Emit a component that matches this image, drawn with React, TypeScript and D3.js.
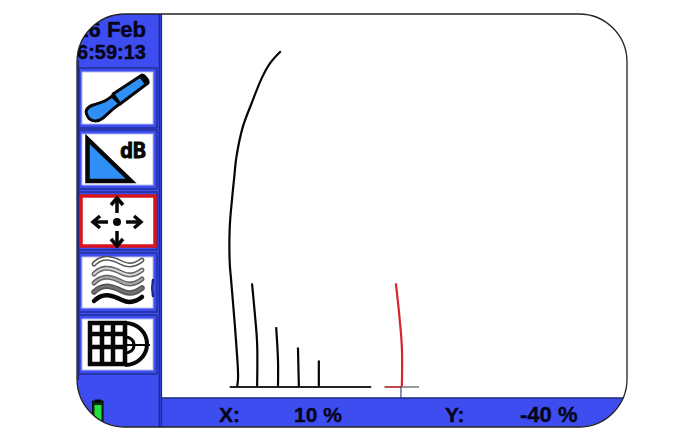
import * as d3 from "d3";

// traces, in % of the instrument's X / Y readout
const traceX = [
  [-15.9, -18.2, -20, -22.1, -24.1, -25.5, -25.9, -26.4, -26.9, -26.9, -26.6, -25.6, -25.1, -25.3],
  [-22.1, -21.5, -21, -21],
  [-16.9, -16.5, -16.5],
  [-12.2, -12],
  [-7.7, -7.7],
];
const traceY = [
  [47.5, 44.4, 40.5, 34.2, 27.7, 19.6, 15, 9, 1.6, -7.8, -12.3, -27.2, -37.6, -40],
  [-13.1, -20.9, -28.7, -40],
  [-24.5, -33.2, -40],
  [-29.8, -40],
  [-33.2, -40],
];
const cursorTraceX = [8.9, 9.6, 10.2, 10.2];
const cursorTraceY = [-13.1, -20.9, -29.8, -40];
const baselineX = [-26.9, 3.6];
const gateX = [6.4, 13.9];
const gateStartX = 6.6;
const cursorX = 10;
const cursorY = -40;

const dateLabel = "16 Feb";
const timeLabel = "16:59:13";

const BLUE = "#3e4df0";
const DARK = "#1c2a80";
const INK = "#060606";
const SKY = "#2f8ff5";

const x = d3.scaleLinear().domain([-41.5, 58.5]).range([162, 626]);
const y = d3.scaleLinear().domain([57.5, -43]).range([13, 398]);

const line = d3
  .line<[number, number]>()
  .x((d) => x(d[0]))
  .y((d) => y(d[1]))
  .curve(d3.curveCatmullRom);

const toPoints = (xs: number[], ys: number[]) =>
  xs.map((v, i) => [v, ys[i]] as [number, number]);

const buttons = [
  { top: 72, bottom: 124 },
  { top: 134, bottom: 185 },
  { top: 196, bottom: 246, active: true },
  { top: 257, bottom: 308 },
  { top: 319, bottom: 370 },
];

const framePath =
  "M125,14 H579 A48,48 0 0 1 627,62 V379 A48,48 0 0 1 579,427 H125 A48,48 0 0 1 77,379 V62 A48,48 0 0 1 125,14 Z";

function ChiselIcon() {
  return (
    <g stroke={INK} strokeWidth={3} strokeLinejoin="round">
      <path
        d="M88,117 C84,111 87,107 93,105 C99,103 106,102 112,96 L120,104 C113,108 108,114 103,118 C98,122 91,122 88,117 Z"
        fill={SKY}
      />
      <path d="M113,94 L142,75 C144,75 149,80 148,83 L120,104 Z" fill={SKY} />
      <path d="M141,76 L147,84" stroke={INK} strokeWidth={4} />
    </g>
  );
}

function SlopeIcon() {
  return (
    <g>
      <path d="M87.5,139 L87.5,181 L131,181 Z" fill={SKY} stroke={INK} strokeWidth={4.5} strokeLinejoin="miter" />
      <text
        x={120}
        y={158}
        fontFamily="'DejaVu Sans Mono', monospace"
        fontWeight="bold"
        fontSize={22}
        letterSpacing={-0.5}
        fill={INK}
        stroke={INK}
        strokeWidth={0.8}
      >
        dB
      </text>
    </g>
  );
}

function MoveIcon() {
  const cx = 117;
  const cy = 222;
  const arrows = [0, 90, 180, 270];
  return (
    <g stroke={INK} fill={INK}>
      <circle cx={cx} cy={cy} r={4} stroke="none" />
      {arrows.map((a) => (
        <g key={a} transform={`rotate(${a} ${cx} ${cy})`}>
          <line x1={cx + 9} y1={cy} x2={cx + 21} y2={cy} strokeWidth={3.5} />
          <path d={`M${cx + 17},${cy - 6} L${cx + 24},${cy} L${cx + 17},${cy + 6}`} fill="none" strokeWidth={3.5} />
        </g>
      ))}
    </g>
  );
}

function WavesIcon() {
  const rows = [
    { dy: 264, color: "#ffffff", edge: "#555555", w: 5, dash: "1.2 1" },
    { dy: 274, color: "#d8d8d8", edge: "#666666", w: 5, dash: "1.2 1" },
    { dy: 283, color: "#a8a8a8", edge: "#666666", w: 5, dash: "1.5 0.8" },
    { dy: 292, color: "#707070", edge: "#555555", w: 5.5, dash: "" },
    { dy: 301, color: INK, edge: INK, w: 4.5, dash: "" },
  ];
  return (
    <g fill="none" strokeLinecap="round">
      {rows.map((r) => {
        const d = `M94,${r.dy} C103,${r.dy - 9} 112,${r.dy - 6} 122,${r.dy - 1} C130,${r.dy + 3} 137,${r.dy} 142,${r.dy - 4}`;
        return (
          <g key={r.dy}>
            <path d={d} stroke={r.edge} strokeWidth={r.w} strokeDasharray={r.dash} />
            <path d={d} stroke={r.color} strokeWidth={r.w - 3} />
          </g>
        );
      })}
      <path d="M153,280 C152,285 152,291 153,296" stroke={DARK} strokeWidth={2.5} />
    </g>
  );
}

function GridIcon() {
  const xs = [90, 102, 113, 125];
  const ys = [323, 334, 347, 364];
  return (
    <g stroke={INK} fill="none" strokeWidth={4.5}>
      {xs.map((v) => (
        <line key={v} x1={v} x2={v} y1={321} y2={366} />
      ))}
      {ys.map((v) => (
        <line key={v} y1={v} y2={v} x1={88} x2={127} />
      ))}
      <path d="M125,323 C138,323 147,333 147,344 C147,355 138,365 125,365" strokeWidth={4} />
      <path d="M125,337 C130,337 134,340 134,345 C134,350 130,353 125,353" strokeWidth={3} />
      <line x1={127} x2={150} y1={345} y2={345} strokeWidth={2} />
    </g>
  );
}

const icons = [ChiselIcon, SlopeIcon, MoveIcon, WavesIcon, GridIcon];

export default function App() {
  const font = "'Liberation Sans', Arial, sans-serif";
  return (
    <svg
      width={700}
      height={435}
      style={{ position: "absolute", left: 0, top: 0, background: "#fff" }}
    >
      <defs>
        <clipPath id="frame">
          <path d={framePath} />
        </clipPath>
      </defs>
      <g clipPath="url(#frame)">
        <rect x={77} y={14} width={84} height={413} fill={BLUE} />
        <rect x={161} y={398} width={466} height={29} fill={BLUE} />
        <line x1={159.5} x2={159.5} y1={14} y2={427} stroke={DARK} strokeWidth={1.5} />
        <line x1={161.5} x2={161.5} y1={14} y2={427} stroke={DARK} strokeWidth={1.2} />
        <line x1={161} x2={627} y1={398} y2={398} stroke={DARK} strokeWidth={1.5} />
        <line x1={78.5} x2={78.5} y1={60} y2={380} stroke={DARK} strokeWidth={1.2} />

        <g fontFamily={font} fontWeight="bold" fill="#05051a" stroke="#05051a" strokeWidth={0.4} textAnchor="end">
          <text x={146} y={37} fontSize={22}>{dateLabel}</text>
          <text x={146} y={59} fontSize={20}>{timeLabel}</text>
        </g>

        {buttons.map((b, i) => (
          <g key={b.top}>
            <rect
              x={79}
              y={b.top - 4}
              width={78}
              height={b.bottom - b.top + 8}
              fill={BLUE}
              stroke={DARK}
              strokeWidth={1.2}
            />
            <rect
              x={b.active ? 81 : 82}
              y={b.top}
              width={b.active ? 74 : 71}
              height={b.bottom - b.top}
              fill="#fff"
              stroke={b.active ? "#d8141c" : "#b9c0f5"}
              strokeWidth={b.active ? 3.5 : 1}
            />
            {icons[i]()}
          </g>
        ))}

        <rect x={92.5} y={401} width={10.5} height={28} fill="#0b2a12" stroke={INK} />
        <rect x={95} y={399.5} width={6} height={3} fill={INK} />
        <rect x={94.5} y={405} width={7} height={22} fill="#22e03a" />

        <g fontFamily={font} fontWeight="bold" fontSize={21} fill="#05051a" stroke="#05051a" strokeWidth={0.4}>
          <text x={219} y={422}>X:</text>
          <text x={294} y={422}>{cursorX} %</text>
          <text x={445} y={422}>Y:</text>
          <text x={520} y={422} fontSize={22}>{cursorY} %</text>
        </g>
      </g>

      <path d={framePath} fill="none" stroke="#222" strokeWidth={1.3} />

      <line
        x1={x(baselineX[0])}
        x2={x(baselineX[1])}
        y1={y(cursorY) + 0.5}
        y2={y(cursorY) + 0.5}
        stroke="#222"
        strokeWidth={1.8}
      />
      <line
        x1={x(gateX[0])}
        x2={x(gateX[1])}
        y1={y(cursorY) + 0.5}
        y2={y(cursorY) + 0.5}
        stroke="#777"
        strokeWidth={1.3}
      />
      <line
        x1={x(gateStartX)}
        x2={x(cursorX)}
        y1={y(cursorY) + 0.5}
        y2={y(cursorY) + 0.5}
        stroke="#d8242c"
        strokeWidth={1.4}
      />
      <line
        x1={x(cursorX)}
        x2={x(cursorX)}
        y1={y(cursorY)}
        y2={398}
        stroke="#1c2a60"
        strokeWidth={1}
      />
      {traceX.map((xs, i) => (
        <path
          key={i}
          d={line(toPoints(xs, traceY[i])) ?? ""}
          fill="none"
          stroke={INK}
          strokeWidth={2.2}
        />
      ))}
      <path
        d={line(toPoints(cursorTraceX, cursorTraceY)) ?? ""}
        fill="none"
        stroke="#d8242c"
        strokeWidth={2.2}
      />
    </svg>
  );
}
